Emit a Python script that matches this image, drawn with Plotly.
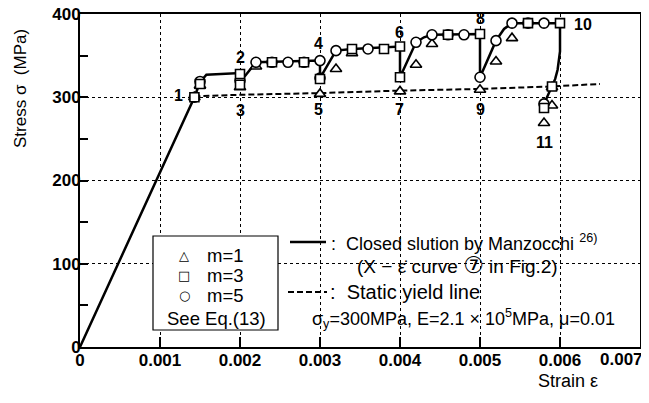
import plotly.graph_objects as go

# ---------------- data ----------------
# Closed solution by Manzocchi (solid curve)
curve_strain = [0, 0.00143, 0.0015, 0.00158, 0.002, 0.002, 0.0022, 0.003, 0.003, 0.0032, 0.0034,
                0.004, 0.004, 0.0042, 0.0043, 0.0044, 0.005, 0.005, 0.0052, 0.0053, 0.0054,
                0.006, 0.006, 0.00597, 0.00594, 0.0059, 0.0058]
curve_stress = [0, 300, 318, 327, 329, 318, 342, 344, 323, 356, 358,
                361, 324, 366, 372, 375, 376, 324, 368, 382, 389,
                389, 355, 333, 322, 313, 292]

# Static yield line (dashed)
static_strain = [0.00143, 0.002, 0.003, 0.004, 0.005, 0.0059, 0.0065]
static_stress = [301, 303, 305, 308, 310, 313, 316]

# m=1 (triangles)
m1_strain = [0.00143, 0.0015, 0.002, 0.0022, 0.003, 0.0032, 0.0034, 0.004, 0.0042, 0.0044,
             0.005, 0.0052, 0.0054, 0.0059, 0.0059, 0.0058]
m1_stress = [300, 314, 312, 337, 304, 334, 353, 307, 339, 364,
             309, 343, 371, 312, 290, 269]

# m=5 (circles)
m5_strain = [0.00143, 0.0015, 0.002, 0.0022, 0.0024, 0.0026, 0.0028, 0.003, 0.003, 0.0032,
             0.0036, 0.0042, 0.0044, 0.0046, 0.0048, 0.005, 0.0052, 0.0054, 0.0056, 0.0058, 0.0058]
m5_stress = [300, 319, 320, 342, 342, 342, 342, 344, 323, 356,
             358, 366, 375, 375, 375, 324, 368, 389, 389, 389, 292]

# m=3 (squares)
m3_strain = [0.00143, 0.0015, 0.002, 0.002, 0.0024, 0.0028, 0.003, 0.0034, 0.0038, 0.004,
             0.004, 0.0046, 0.005, 0.0056, 0.006, 0.0059, 0.0058]
m3_stress = [300, 316, 328, 315, 342, 342, 322, 358, 358, 361,
             324, 375, 376, 389, 389, 313, 287]

# point numbers
point_labels = ["1", "2", "3", "4", "5", "6", "7", "8", "9", "10", "11"]
point_strain = [0.00123, 0.002, 0.002, 0.00298, 0.00298, 0.00399, 0.00399, 0.005, 0.005, 0.00629, 0.00581]
point_stress = [302, 348, 284, 364, 285, 378, 285, 395, 285, 387, 246]

x_tickvals = [0, 0.001, 0.002, 0.003, 0.004, 0.005, 0.006, 0.007]
x_ticktext = ["0", "0.001", "0.002", "0.003", "0.004", "0.005", "0.006", "0.007"]
y_tickvals = [0, 100, 200, 300, 400]
y_ticktext = ["0", "100", "200", "300", "400"]

# ---------------- layout geometry ----------------
# page body has an 8px margin: the figure starts at (8, 8) in the window
OFF = 8
W, H = 649 - OFF, 403 - OFF
PX0, PX1, PY0, PY1 = 80, 640, 14, 347          # plot area in window pixels
L, R, T = PX0 - OFF, OFF + W - PX1, PY0 - OFF
B = OFF + H - PY1
PW, PH = PX1 - PX0, PY1 - PY0


def px(x):
    return (x - PX0) / PW


def py(y):
    return (PY1 - y) / PH


FONT = "Liberation Sans, Arial, Helvetica, sans-serif"

fig = go.Figure()

fig.add_trace(go.Scatter(x=curve_strain, y=curve_stress, mode="lines",
                         line=dict(color="black", width=2.5), showlegend=False))
fig.add_trace(go.Scatter(x=static_strain, y=static_stress, mode="lines",
                         line=dict(color="black", width=2, dash="6px,3px"), showlegend=False))

mk_line = dict(color="black", width=1.6)
fig.add_trace(go.Scatter(x=m1_strain, y=m1_stress, mode="markers",
                         marker=dict(symbol="triangle-up", size=10, color="white", line=mk_line),
                         showlegend=False))
fig.add_trace(go.Scatter(x=m5_strain, y=m5_stress, mode="markers",
                         marker=dict(symbol="circle", size=10, color="white", line=mk_line),
                         showlegend=False))
fig.add_trace(go.Scatter(x=m3_strain, y=m3_stress, mode="markers",
                         marker=dict(symbol="square", size=9, color="white", line=mk_line),
                         showlegend=False))

annotations = []
for t, xs, ys in zip(point_labels, point_strain, point_stress):
    annotations.append(dict(x=xs, y=ys, xref="x", yref="y", text=t, showarrow=False,
                            font=dict(family=FONT, size=16, color="black", weight="bold"),
                            xanchor="center", yanchor="middle"))

# last x tick label (shifted left to stay inside the page)
annotations.append(dict(x=x_tickvals[-1], y=0, xref="x", yref="y", text=x_ticktext[-1],
                        showarrow=False, xanchor="center", yanchor="middle", xshift=-19, yshift=-12,
                        font=dict(family=FONT, size=17, color="black", weight="bold")))

# axis titles
annotations.append(dict(x=px(20), y=py(89), xref="paper", yref="paper", text="Stress σ  (MPa)",
                        textangle=-90, showarrow=False, xanchor="center", yanchor="middle",
                        font=dict(family=FONT, size=17, color="black")))
annotations.append(dict(x=px(568), y=py(381), xref="paper", yref="paper", text="Strain ε",
                        showarrow=False, xanchor="center", yanchor="middle",
                        font=dict(family=FONT, size=18, color="black")))

# legend box contents
leg_font = dict(family=FONT, size=18.5, color="black")
for sym, lab, yy in [("△", "m=1", 255), ("□", "m=3", 275), ("○", "m=5", 295)]:
    annotations.append(dict(x=px(184), y=py(yy), xref="paper", yref="paper", text=sym,
                            showarrow=False, xanchor="center", yanchor="middle",
                            font=dict(family="DejaVu Sans", size=13, color="black")))
    annotations.append(dict(x=px(205), y=py(yy), xref="paper", yref="paper", text=lab,
                            showarrow=False, xanchor="left", yanchor="middle", font=leg_font))
annotations.append(dict(x=px(165), y=py(318), xref="paper", yref="paper", text="See Eq.(13)",
                        showarrow=False, xanchor="left", yanchor="middle", font=leg_font))

# explanation text
txt_font = dict(family=FONT, size=18, color="black")
annotations.append(dict(x=px(329), y=py(242), xref="paper", yref="paper",
                        text=":  Closed slution by Manzocchi <sup>26)</sup>",
                        showarrow=False, xanchor="left", yanchor="middle", font=txt_font))
annotations.append(dict(x=px(355), y=py(265), xref="paper", yref="paper",
                        text="(X − ε̇ curve <span style='font-family:DejaVu Sans;font-size:23px'>⑦</span> in Fig.2)",
                        showarrow=False, xanchor="left", yanchor="middle",
                        font=dict(family=FONT, size=19, color="black")))
annotations.append(dict(x=px(328), y=py(292), xref="paper", yref="paper",
                        text=":  Static yield line",
                        showarrow=False, xanchor="left", yanchor="middle",
                        font=dict(family=FONT, size=20, color="black")))
annotations.append(dict(x=px(310), y=py(318), xref="paper", yref="paper",
                        text="σ<sub>y</sub>=300MPa, E=2.1 × 10<sup>5</sup>MPa, μ=0.01",
                        showarrow=False, xanchor="left", yanchor="middle", font=txt_font))

shapes = [
    dict(type="rect", xref="paper", yref="paper", x0=px(153), x1=px(278), y0=py(330), y1=py(236),
         line=dict(color="black", width=1.2), fillcolor="white", layer="above"),
    dict(type="line", xref="paper", yref="paper", x0=px(290), x1=px(326), y0=py(242), y1=py(242),
         line=dict(color="black", width=2.5)),
    dict(type="line", xref="paper", yref="paper", x0=px(288), x1=px(327), y0=py(292), y1=py(292),
         line=dict(color="black", width=2, dash="6px,3px")),
]

fig.update_layout(
    width=W, height=H,
    margin=dict(l=L, r=R, t=T, b=B, autoexpand=False),
    paper_bgcolor="white", plot_bgcolor="white",
    font=dict(family=FONT, color="black"),
    annotations=annotations, shapes=shapes,
    showlegend=False,
    xaxis=dict(range=[0, 0.007], tickvals=x_tickvals[:-1], ticktext=x_ticktext[:-1],
               automargin=False, ticklabelstandoff=-3, ticklabeloverflow="allow",
               ticks="inside", ticklen=10, tickwidth=1.5, tickcolor="black",
               showline=True, linecolor="black", linewidth=2, mirror=True,
               showgrid=True, gridcolor="black", gridwidth=1.3, griddash="dot",
               zeroline=False,
               tickfont=dict(family=FONT, size=17, color="black", weight="bold")),
    yaxis=dict(range=[0, 400], tickvals=y_tickvals, ticktext=y_ticktext,
               automargin=False, ticklabelstandoff=-6, ticklabeloverflow="allow",
               ticks="inside", ticklen=8, tickwidth=1.5, tickcolor="black",
               minor=dict(dtick=50, ticks="inside", ticklen=8, tickcolor="black", showgrid=False),
               showline=True, linecolor="black", linewidth=2, mirror=True,
               showgrid=True, gridcolor="black", gridwidth=1.3, griddash="dot",
               zeroline=False,
               tickfont=dict(family=FONT, size=17, color="black", weight="bold")),
)

fig.write_html("out.html")
